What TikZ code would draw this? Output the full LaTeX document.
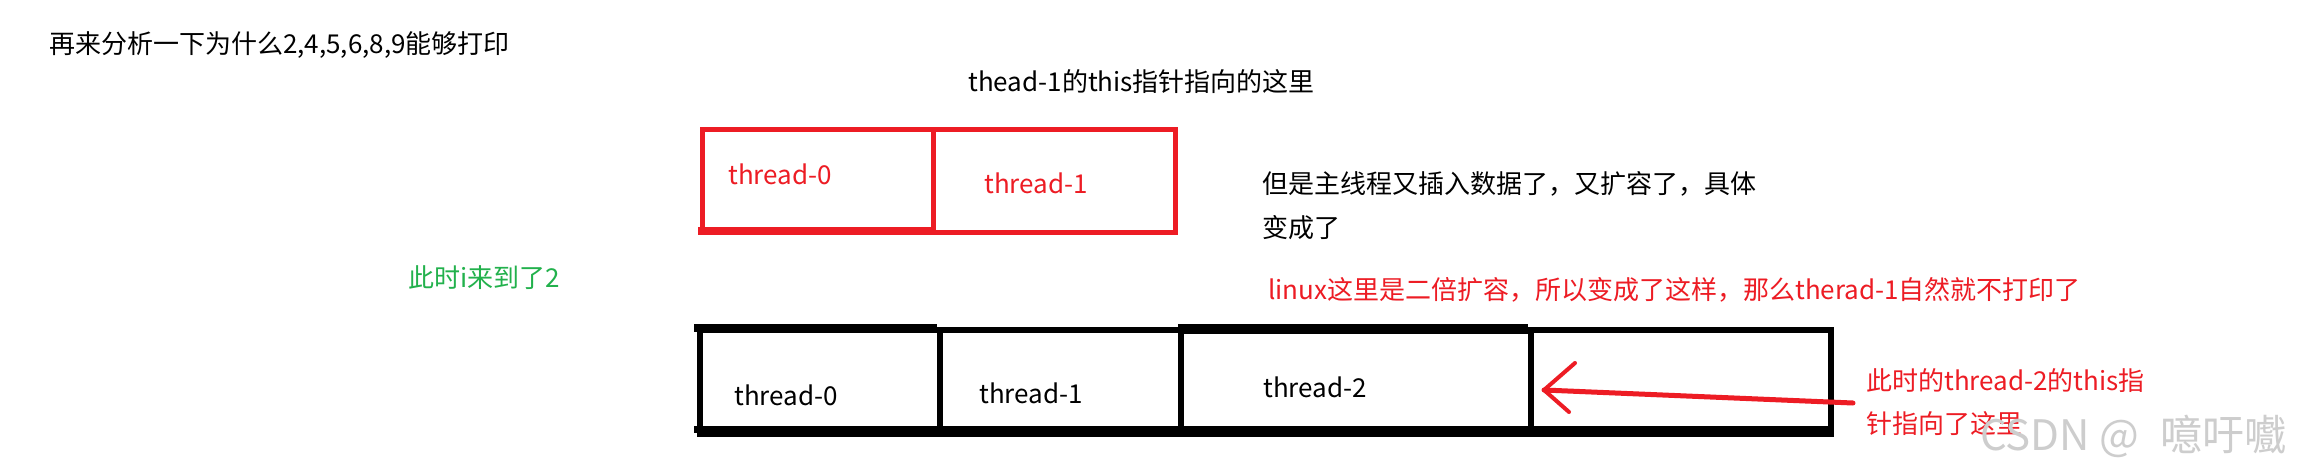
\documentclass[tikz,border=0pt]{standalone}
\usepackage{fontspec}
\setmainfont{Noto Sans CJK SC}
\definecolor{pred}{RGB}{237,28,36}
\definecolor{pgreen}{RGB}{34,177,76}
\definecolor{wmark}{RGB}{205,205,205}
\begin{document}
\begin{tikzpicture}[x=1pt,y=-1pt,
  txt/.style={anchor=west,inner sep=0pt,font=\fontsize{26}{30}\selectfont},
  redcell/.style={draw=pred,line width=5pt,inner sep=0pt,anchor=north west},
  blkcell/.style={draw=black,line width=6pt,inner sep=0pt,anchor=north west},
  redline/.style={draw=pred,line width=5pt,line cap=round}]
\useasboundingbox (0,0) rectangle (2320,472);
\fill[white] (0,0) rectangle (2320,472);
% title texts
\node[txt] (title) at (49,45) {再来分析一下为什么2,4,5,6,8,9能够打印};
\node[txt] (ptr1) at (968,82) {thead-1的this指针指向的这里};
% red boxes
\node[redcell,minimum width=231pt,minimum height=103pt] (r0) at (700,127) {};
\node[redcell,minimum width=242pt,minimum height=103pt] (r1) at (931,127) {};
\fill[pred] (697.5,227) rectangle (933.5,235);
\node[txt,text=pred] (t0r) at (728,174) {thread-0};
\node[txt,text=pred] (t1r) at (984,183) {thread-1};
% explanation
\node[txt] (exp1) at (1262,184) {但是主线程又插入数据了，又扩容了，具体};
\node[txt] (exp2) at (1262,228) {变成了};
\node[txt,text=pgreen] (green) at (408,278) {此时i来到了2};
\node[txt,text=pred] (linux) at (1268,290) {linux这里是二倍扩容，所以变成了这样，那么therad-1自然就不打印了};
% black cells
\node[blkcell,minimum width=240pt,minimum height=104pt] (b0) at (697,327) {};
\node[blkcell,minimum width=241pt,minimum height=104pt] (b1) at (937,327) {};
\node[blkcell,minimum width=350pt,minimum height=104pt] (b2) at (1178,327) {};
\node[blkcell,minimum width=300pt,minimum height=104pt] (b3) at (1528,327) {};
\fill (694,324) rectangle (937,332);
\fill (1178,324) rectangle (1528,334);
\fill (694,426) rectangle (1831,433);
\node[txt] (t0) at (734,395) {thread-0};
\node[txt] (t1) at (979,393) {thread-1};
\node[txt] (t2) at (1263,387) {thread-2};
% red arrow
\coordinate (tail) at (1853,403);
\coordinate (tip) at (1544,390);
\coordinate (h1) at (1575,363);
\coordinate (h2) at (1569,412);
\draw[redline] (tail) -- (tip);
\draw[redline,line width=4pt] (tip) -- (h1);
\draw[redline,line width=4pt] (tip) -- (h2);
\node[txt,text=pred] (note1) at (1866,381) {此时的thread-2的this指};
\node[txt,text=pred] (note2) at (1866,424) {针指向了这里};
% watermark
\node[txt,text=wmark,font=\fontsize{42}{46}\selectfont] (wm) at (1980,436) {CSDN @\hspace{0.5em}噫吁嚱};
\end{tikzpicture}
\end{document}
